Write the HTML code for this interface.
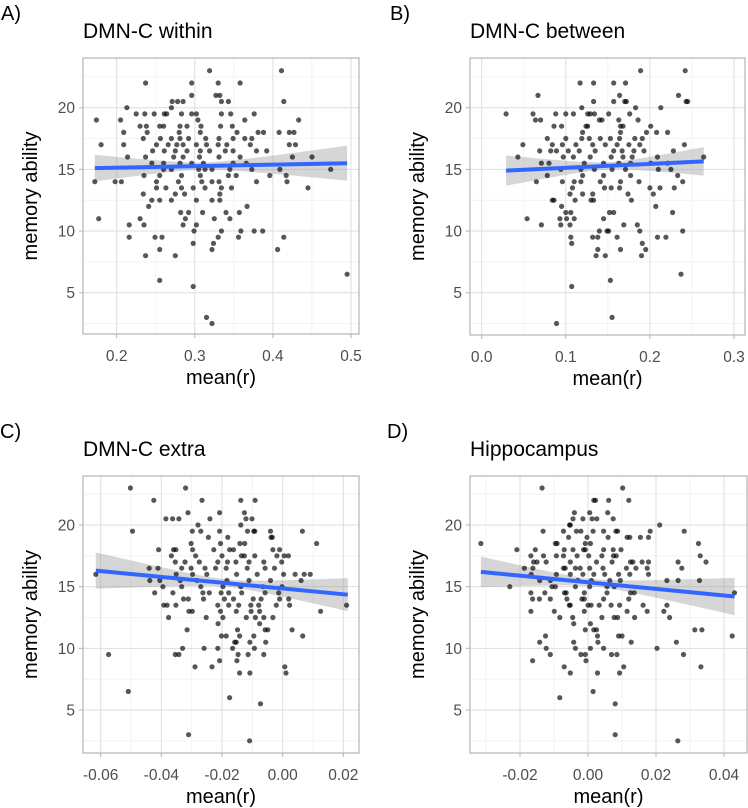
<!DOCTYPE html>
<html><head><meta charset="utf-8">
<style>
html,body{margin:0;padding:0;background:#fff;}
svg{display:block;font-family:"Liberation Sans",Arial,sans-serif;}
</style></head>
<body>
<svg id="fig" width="748" height="808" viewBox="0 0 748 808" xmlns="http://www.w3.org/2000/svg"></svg>
<script>
// ---------- Panel A data: DMN-C within ----------
const levelsA = [23,22,21,20.5,20,19.5,19,18.5,18,17.5,17,16.5,16,15.5,15,14.5,14,13.5,13,12.5,12,11.5,11,10.5,10,9.5,9,8.5,8,6.5,6,5.5,3,2.5];
const xsA = [
[0.319,0.411],[0.237,0.296,0.330,0.358],[0.296,0.327,0.332],[0.271,0.278,0.285,0.334,0.343,0.414],[0.213,0.270],
[0.225,0.236,0.248,0.261,0.264,0.283,0.296,0.302,0.334,0.346,0.376],[0.174,0.205,0.304,0.364,0.433],
[0.230,0.238,0.255,0.260,0.281,0.290,0.308,0.333,0.348],[0.209,0.239,0.280,0.307,0.354,0.381,0.388,0.408,0.421,0.427],
[0.234,0.256,0.270,0.281,0.292,0.314,0.331,0.349,0.364,0.373],[0.180,0.209,0.251,0.266,0.277,0.285,0.302,0.315,0.330,0.341,0.371,0.421,0.429],
[0.246,0.261,0.275,0.290,0.307,0.319,0.339,0.349,0.379,0.392],[0.214,0.237,0.273,0.285,0.306,0.331,0.358,0.425,0.450],
[0.245,0.260,0.281,0.296,0.311,0.349,0.366],[0.260,0.270,0.305,0.313,0.322,0.345,0.373,0.409,0.474],
[0.235,0.255,0.283,0.307,0.343,0.353,0.396,0.417],[0.172,0.198,0.206,0.251,0.279,0.309,0.322,0.331,0.379,0.418],
[0.251,0.263,0.283,0.298,0.313,0.334,0.347,0.445],[0.234,0.275,0.287,0.332],[0.245,0.255,0.270,0.302,0.322,0.332],
[0.241,0.367],[0.282,0.292,0.310,0.340,0.357],[0.177,0.230,0.288,0.325,0.345],[0.216,0.235,0.285,0.302],
[0.299,0.334,0.359,0.376,0.387],[0.216,0.249,0.258,0.330,0.356,0.414],[0.298,0.324],[0.255,0.322,0.406],[0.237,0.275],
[0.495],[0.255],[0.298],[0.315],[0.322]];
const fitA = [0.172, 15.1, 0.495, 15.5];
const bandA = [0.31, 0.3, 7.5];

// ---------- Panel B data: DMN-C between ----------
const levelsB = [23,22,21,20.5,20,19.5,19,18.5,18,17.5,17,16.5,16,15.5,15,14.5,14,13.5,13,12.5,12,11.5,11,10.5,10,9.5,9,8.5,8,6.5,6,5.5,3,2.5];
const xsB = [
[0.189,0.242],[0.117,0.133,0.157,0.171],[0.067,0.164,0.234],[0.133,0.157,0.170,0.172,0.243,0.245],[0.119,0.183,0.213],
[0.029,0.061,0.088,0.100,0.109,0.126,0.129,0.134,0.151,0.176],[0.064,0.070,0.140,0.143,0.163,0.186],
[0.086,0.095,0.124,0.126,0.165,0.168,0.201],[0.120,0.165,0.196,0.208,0.221],
[0.078,0.100,0.119,0.128,0.141,0.153,0.164,0.182,0.191],[0.049,0.084,0.096,0.112,0.132,0.147,0.161,0.175,0.188,0.241],
[0.069,0.082,0.089,0.103,0.116,0.135,0.157,0.167,0.181,0.193,0.228],[0.043,0.097,0.109,0.129,0.154,0.168,0.179,0.209,0.264],
[0.071,0.080,0.122,0.145,0.163,0.177,0.201,0.221],[0.094,0.118,0.134,0.155,0.171,0.210,0.225],
[0.078,0.120,0.145,0.177,0.233],[0.065,0.096,0.110,0.118,0.141,0.165,0.187,0.239],
[0.108,0.146,0.154,0.164,0.200,0.212,0.229],[0.105,0.120,0.132,0.174,0.204],[0.084,0.086,0.111,0.130,0.133,0.178],
[0.095,0.207],[0.100,0.106,0.152,0.157,0.227],[0.054,0.093,0.101,0.110,0.145],[0.071,0.094,0.105,0.169,0.185],
[0.140,0.149,0.151,0.188,0.239],[0.106,0.132,0.138,0.161,0.209,0.219],[0.107,0.191],[0.138,0.165,0.195],[0.136,0.147,0.190],
[0.237],[0.153],[0.107],[0.155],[0.089]];
const fitB = [0.029, 14.9, 0.264, 15.65];
const bandB = [0.15, 0.3, 9.8];

// ---------- Panel C data: DMN-C extra ----------
const levelsC = [23,22,21,20.5,20,19.5,19,18.5,18,17.5,17,16.5,16,15.5,15,14.5,14,13.5,13,12.5,12,11.5,11,10.5,10,9.5,9,8.5,8,6.5,6,5.5,3,2.5];
const xsC = [
[-0.0502,-0.0320],[-0.0425,-0.0266,-0.0138,-0.0091],[-0.0312,-0.0208,-0.0126],[-0.0385,-0.0363,-0.0342,-0.0240,-0.0121,-0.0101],[-0.0279,-0.0138],
[-0.0495,-0.0298,-0.0270,-0.0208,-0.0116,-0.0095,-0.0092,-0.0040,0.0065],[-0.0245,-0.0181,-0.0038,-0.0034],
[-0.0302,-0.0205,-0.0141,-0.0125,0.0112],[-0.0409,-0.0360,-0.0352,-0.0297,-0.0227,-0.0175,-0.0162,-0.0032,-0.0010],
[-0.0367,-0.0287,-0.0200,-0.0136,-0.0126,-0.0092,-0.0019,0.0005,0.0019],[-0.0354,-0.0322,-0.0275,-0.0214,-0.0182,-0.0154,-0.0111,-0.0062,-0.0003],
[-0.0440,-0.0411,-0.0333,-0.0302,-0.0256,-0.0221,-0.0186,-0.0117,-0.0058,-0.0027],[-0.0616,-0.0351,-0.0297,-0.0250,-0.0152,-0.0084,0.0003,0.0041,0.0071,0.0091],
[-0.0438,-0.0405,-0.0338,-0.0282,-0.0184,-0.0111,-0.0040,0.0061],[-0.0395,-0.0333,-0.0270,-0.0197,-0.0138,-0.0065,-0.0002],
[-0.0422,-0.0362,-0.0263,-0.0242,-0.0203,-0.0178,-0.0135,-0.0058,-0.0013],[-0.0327,-0.0311,-0.0261,-0.0192,-0.0162,-0.0097,-0.0071,-0.0010,0.0020],
[-0.0392,-0.0381,-0.0352,-0.0214,-0.0178,-0.0145,-0.0105,-0.0079,-0.0021,0.0023,0.0211],[-0.0309,-0.0298,-0.0205,-0.0153,-0.0104,-0.0076,0.0125],
[-0.0376,-0.0252,-0.0197,-0.0120,-0.0090,-0.0062,-0.0032],[-0.0213,-0.0076],[-0.0315,-0.0149,-0.0058,-0.0049,0.0031],
[-0.0202,-0.0186,-0.0142,-0.0095,0.0066],[-0.0158,-0.0153,-0.0108,-0.0056],[-0.0330,-0.0259,-0.0214,-0.0165,-0.0093],
[-0.0574,-0.0354,-0.0342,-0.0147,-0.0114,-0.0062],[-0.0208,-0.0151],[-0.0289,-0.0233,0.0007],[-0.0142,-0.0108,0.0011],
[-0.0509],[-0.0175],[-0.0073],[-0.0310],[-0.0109]];
const fitC = [-0.0616, 16.3, 0.0215, 14.35];
const bandC = [-0.018, 0.3, 33];

// ---------- Panel D data: Hippocampus ----------
const levelsD = [23,22,21,20.5,20,19.5,19,18.5,18,17.5,17,16.5,16,15.5,15,14.5,14,13.5,13,12.5,12,11.5,11,10.5,10,9.5,9,8.5,8,6.5,6,5.5,3,2.5];
const xsD = [
[-0.0135,0.0102],[0.0017,0.0022,0.0061,0.012],[-0.004,0.0005,0.0058],[-0.0044,-0.0015,0.0012,0.0026,0.0074],[-0.0054,-0.0052,0.0211],
[-0.0132,-0.0072,-0.0034,-0.0021,0.0015,0.0046,0.0082,0.0087,0.0183,0.0283],[-0.0057,-0.0003,0.0059,0.0115,0.0123,0.0154,0.0178],
[-0.0315,-0.0096,-0.0091,-0.0008,0.0007,0.0325],[-0.0209,-0.0155,-0.007,-0.0044,-0.0013,-0.0008,0.0046,0.0074,0.0097],
[-0.0168,-0.0131,-0.0093,-0.0072,-0.0032,0.0002,0.0041,0.0075,0.0083,0.0330],[-0.016,-0.015,-0.0123,-0.0052,0.0025,0.0071,0.0125,0.0132,0.0159,0.0178,0.0265,0.0347],
[-0.0187,-0.0162,-0.0072,-0.0067,-0.0037,-0.0023,0.0005,0.0044,0.0113,0.0141,0.0174,0.0276],[-0.0167,-0.0093,-0.0052,-0.0015,0.0017,0.0049,0.009,0.0123,0.0178],
[-0.0142,-0.0111,-0.0030,0.001,0.0064,0.0095,0.0232,0.0265,0.0328],[-0.023,-0.0106,-0.0096,-0.0037,0.0005,0.0056,0.0077],
[-0.0168,-0.0127,-0.0069,-0.0064,-0.0011,0.0056,0.0125,0.0136,0.0431],[-0.0163,-0.0143,-0.0111,-0.0062,-0.0018,-0.0011,0.0046,0.012],
[-0.0055,-0.0052,0,0.0009,0.0033,0.0068,0.0093,0.0162,0.0232],[-0.0168,-0.0099,-0.0011,0.0115,0.0174,0.0223],
[-0.0083,-0.0045,0.0041,0.0077,0.0087,0.0137,0.024],[-0.0042,0.0007],[-0.0008,0.0017,0.0025,0.0314,0.0335],
[-0.0125,0.0028,0.009,0.01,0.0424],[-0.0142,-0.0042,0.0029,0.0127,0.026],[-0.0123,-0.0037,0.0007,0.0046,0.0203],
[-0.0111,-0.0021,-0.0008,0.0069,0.0085,0.0281],[-0.0163,-0.0006],[-0.007,0.0105,0.0332],[-0.0052,0.0028,0.0093],
[0.0015],[-0.0083],[0.008],[0.008],[0.0264]];
const fitD = [-0.0315, 16.2, 0.0431, 14.2];
const bandD = [0.002, 0.3, 36];

const yTicks = [5,10,15,20];
const xTicksA = [0.2,0.3,0.4,0.5];
const xTicksB = [0.0,0.1,0.2,0.3];
const xTicksC = [-0.06,-0.04,-0.02,0.00,0.02];
const xTicksD = [-0.02,0.00,0.02,0.04];

const NS = "http://www.w3.org/2000/svg";
const svg = document.getElementById('fig');
function mk(tag, attrs, parent){
  const e = document.createElementNS(NS, tag);
  for (const k in attrs) e.setAttribute(k, attrs[k]);
  (parent||svg).appendChild(e);
  return e;
}

function panel(cfg){
  const g = mk('g', {});
  
  
  const L=cfg.box[0], T=cfg.box[1], R=cfg.box[2], B=cfg.box[3];
  const sx = v => cfg.x0px + (v - cfg.x0v) * (cfg.x1px - cfg.x0px) / (cfg.x1v - cfg.x0v);
  const sy = v => cfg.y20 + (20 - v) * (cfg.y5 - cfg.y20) / 15;
  mk('rect', {x:L, y:T, width:R-L, height:B-T, fill:'#fff'}, g);
  const step = cfg.ticks[1]-cfg.ticks[0];
  const minorX = [cfg.ticks[0]-step/2].concat(cfg.ticks.map(t=>t+step/2));
  minorX.forEach(v=>{const p=sx(v); if(p>L&&p<R){const l=mk('line',{x1:p,x2:p,y1:T,y2:B,stroke:'#f0f0f0','stroke-width':0.8},g);
     }});
  [2.5,7.5,12.5,17.5,22.5].forEach(v=>{const p=sy(v); if(p>T&&p<B){const l=mk('line',{x1:L,x2:R,y1:p,y2:p,stroke:'#f0f0f0','stroke-width':0.8},g);
     }});
  cfg.ticks.forEach(v=>{const p=sx(v); const l=mk('line',{x1:p,x2:p,y1:T,y2:B,stroke:'#dedede','stroke-width':1},g);
     });
  yTicks.forEach(v=>{const p=sy(v); const l=mk('line',{x1:L,x2:R,y1:p,y2:p,stroke:'#dedede','stroke-width':1},g);
     });
  const fx0=cfg.fit[0], fy0=cfg.fit[1], fx1=cfg.fit[2], fy1=cfg.fit[3];
  const slope=(fy1-fy0)/(fx1-fx0);
  const half = x => Math.sqrt(cfg.band[1]*cfg.band[1] + Math.pow(cfg.band[2]*(x-cfg.band[0]),2));
  const N=40; let up=[], dn=[];
  for(let i=0;i<=N;i++){const x=fx0+(fx1-fx0)*i/N; const y=fy0+slope*(x-fx0);
    up.push(sx(x).toFixed(1)+','+sy(y+half(x)).toFixed(1)); dn.unshift(sx(x).toFixed(1)+','+sy(y-half(x)).toFixed(1));}
  const band = mk('polygon',{points:up.concat(dn).join(' '), fill:'rgba(153,153,153,0.4)'},g);
  
  
  cfg.levels.forEach((lv,i)=>{ cfg.xs[i].forEach(xv=>{
    const c = mk('circle',{cx:sx(xv).toFixed(1), cy:sy(lv).toFixed(1), r:2.6, fill:'rgba(0,0,0,0.66)'},g);
    
    
  });});
  const ln = mk('line',{x1:sx(fx0),y1:sy(fy0),x2:sx(fx1),y2:sy(fy1),stroke:'#3366FF','stroke-width':4},g);
  
  
  const bd = mk('rect',{x:L, y:T, width:R-L, height:B-T, fill:'none', stroke:'#b3b3b3','stroke-width':1.2},g);
  
  
  cfg.ticks.forEach((v,i)=>{const p=sx(v);
    mk('line',{x1:p,x2:p,y1:B,y2:B+4,stroke:'#b3b3b3','stroke-width':1},g);
    const t=mk('text',{x:p,y:B+27,'text-anchor':'middle','font-size':15.5,fill:'#4d4d4d'},g);
    t.textContent=cfg.tickLabels[i];
    
    });
  yTicks.forEach(v=>{const p=sy(v);
    mk('line',{x1:L-4,x2:L,y1:p,y2:p,stroke:'#b3b3b3','stroke-width':1},g);
    const t=mk('text',{x:L-8,y:p+5.5,'text-anchor':'end','font-size':15.5,fill:'#4d4d4d'},g);
    t.textContent=String(v);
    
    });
  const xt=mk('text',{x:(L+R)/2,y:B+50,'text-anchor':'middle','font-size':20,fill:'#000'},g);
  xt.textContent='mean(r)';
  
  
  const cy=(T+B)/2;
  const yt=mk('text',{x:L-46,y:cy,'text-anchor':'middle','font-size':20,fill:'#000',transform:'rotate(-90 '+(L-46)+' '+cy+')'},g);
  yt.textContent='memory ability';
  
  
  const tt=mk('text',{x:L,y:T-20,'font-size':21,fill:'#000'},g);
  tt.textContent=cfg.title;
  
  
  const lt=mk('text',{x:cfg.letterX,y:T-38,'font-size':20,fill:'#000'},g);
  lt.textContent=cfg.letter;
  
  
}

panel({key:'dmn-c-within', box:[83,58,359,334], x0v:0.2, x0px:116.7, x1v:0.5, x1px:351, y20:107.7, y5:292.7,
  ticks:xTicksA, tickLabels:['0.2','0.3','0.4','0.5'], levels:levelsA, xs:xsA, fit:fitA, band:bandA, title:'DMN-C within', letter:'A)', letterX:1});
panel({key:'dmn-c-between', box:[470,58,745,335], x0v:0.0, x0px:481.7, x1v:0.3, x1px:734, y20:107.7, y5:292.7,
  ticks:xTicksB, tickLabels:['0.0','0.1','0.2','0.3'], levels:levelsB, xs:xsB, fit:fitB, band:bandB, title:'DMN-C between', letter:'B)', letterX:390});
panel({key:'dmn-c-extra', box:[83,476,359,753], x0v:-0.06, x0px:100.7, x1v:0.02, x1px:343.3, y20:525, y5:710,
  ticks:xTicksC, tickLabels:['-0.06','-0.04','-0.02','0.00','0.02'], levels:levelsC, xs:xsC, fit:fitC, band:bandC, title:'DMN-C extra', letter:'C)', letterX:0});
panel({key:'hippocampus', box:[470,476,747,753], x0v:-0.02, x0px:520, x1v:0.04, x1px:724, y20:525, y5:710,
  ticks:xTicksD, tickLabels:['-0.02','0.00','0.02','0.04'], levels:levelsD, xs:xsD, fit:fitD, band:bandD, title:'Hippocampus', letter:'D)', letterX:387});
</script>
</body></html>
